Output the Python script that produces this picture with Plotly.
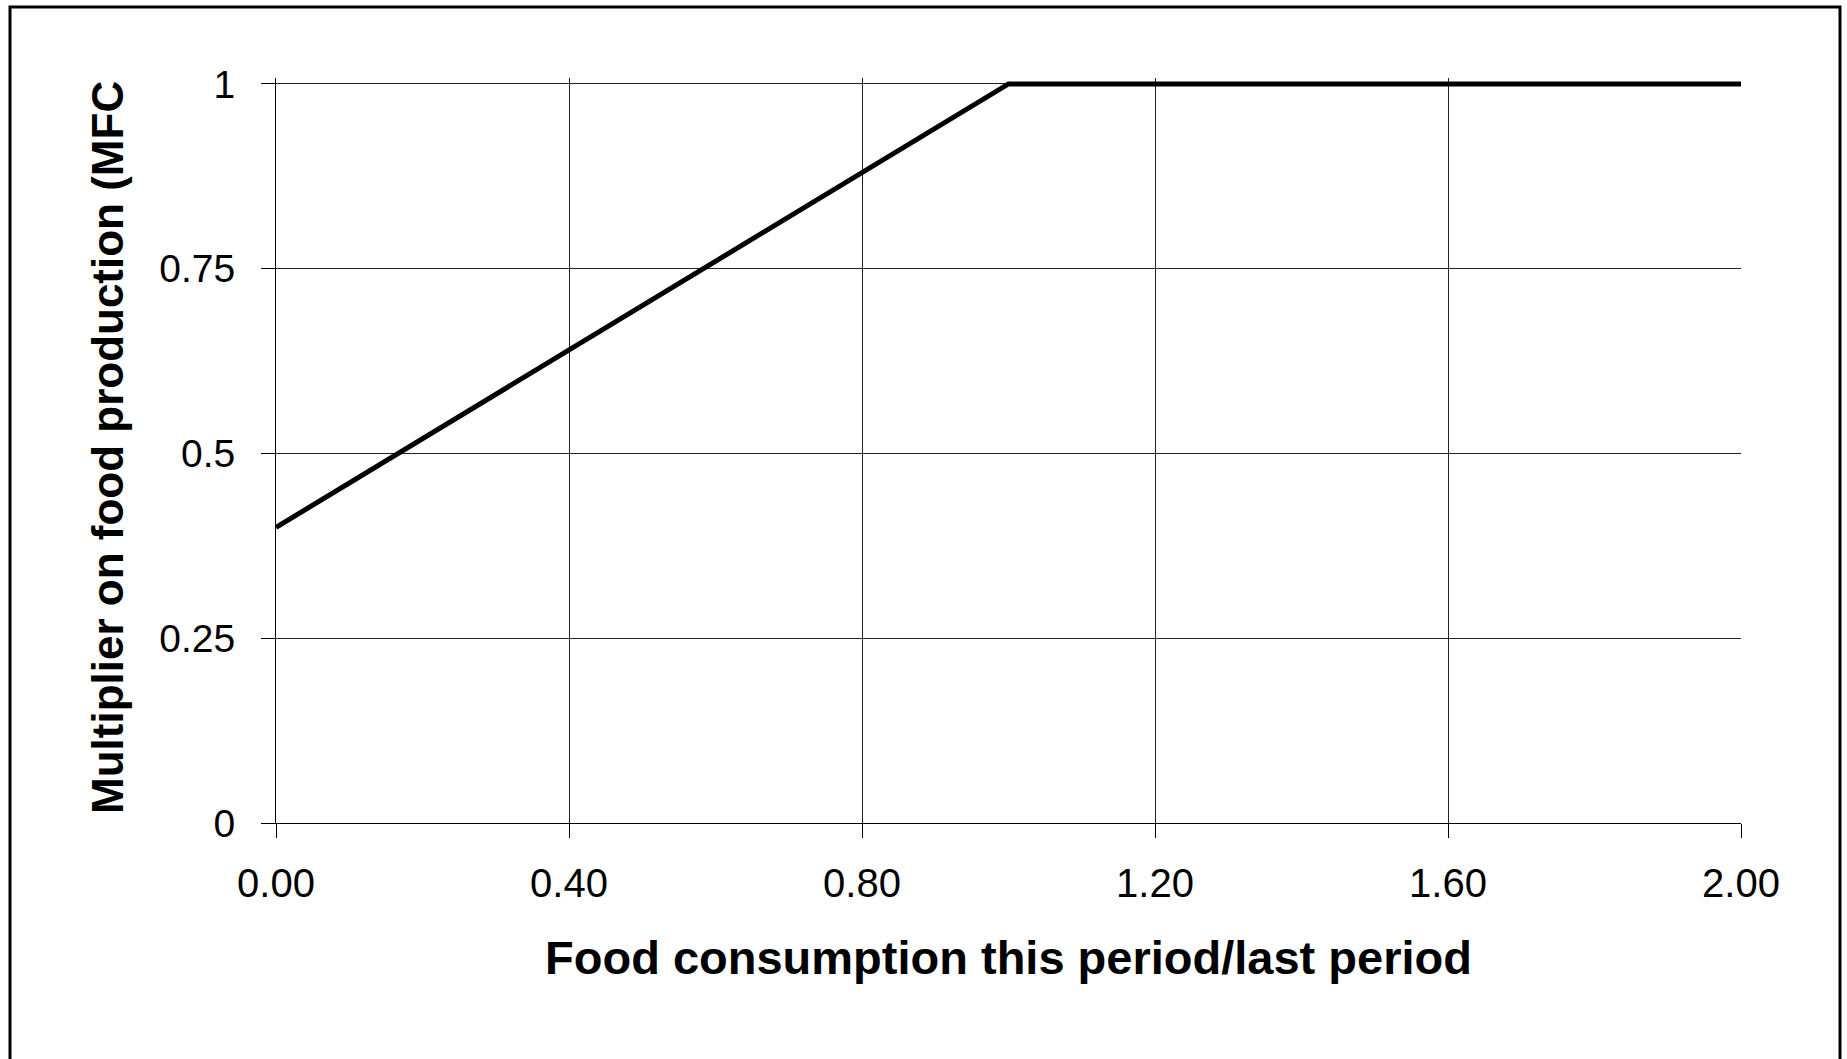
import plotly.graph_objects as go

# Data
x_vals = [0.0, 0.2, 0.4, 0.6, 0.8, 1.0, 1.2, 1.4, 1.6, 1.8, 2.0]
y_vals = [0.4, 0.52, 0.64, 0.76, 0.88, 1.0, 1.0, 1.0, 1.0, 1.0, 1.0]
x_ticks = [0.0, 0.4, 0.8, 1.2, 1.6, 2.0]
x_ticklabels = ["0.00", "0.40", "0.80", "1.20", "1.60", "2.00"]
y_ticks = [0, 0.25, 0.5, 0.75, 1]
y_ticklabels = ["0", "0.25", "0.5", "0.75", "1"]
x_title = "Food consumption this period/last period"
y_title = "Multiplier on food production (MFC"

W, H = 1847, 1059
Y_TOP = 1.008  # small headroom so the thick line at y=1 is not clipped
L, R, B = 276, 106, 236
ph1 = H - B - 84          # pixel height for 0..1
T = int(round(84 - (Y_TOP - 1) * ph1))
pw = W - L - R
ph = H - T - B

FONT = "Liberation Sans, Arial, sans-serif"

fig = go.Figure()
fig.add_trace(go.Scatter(x=x_vals, y=y_vals, mode="lines",
                         line=dict(color="black", width=5),
                         showlegend=False, hoverinfo="skip"))

def px2paper_x(px):
    return (px - L) / pw

def px2paper_y(py):
    return (H - B - py) / ph

fig.update_layout(
    width=W, height=H,
    margin=dict(l=L, r=R, t=T, b=B),
    paper_bgcolor="white", plot_bgcolor="white",
    font=dict(family=FONT, color="black"),
    xaxis=dict(range=[0, 2], tickvals=x_ticks, ticktext=x_ticklabels,
               showgrid=True, gridcolor="#222", gridwidth=1,
               showline=True, linecolor="black", linewidth=1,
               ticks="outside", ticklen=14, tickcolor="black", tickwidth=1,
               tickfont=dict(size=40, family=FONT), zeroline=False,
               ticklabelstandoff=11, fixedrange=True),
    yaxis=dict(range=[0, Y_TOP], tickvals=y_ticks, ticktext=y_ticklabels,
               showgrid=True, gridcolor="#222", gridwidth=1,
               showline=True, linecolor="black", linewidth=1,
               ticks="outside", ticklen=14, tickcolor="black", tickwidth=1,
               tickfont=dict(size=39, family=FONT), zeroline=False,
               ticklabelstandoff=18, fixedrange=True),
    annotations=[
        dict(text="<b>" + x_title + "</b>", xref="paper", yref="paper",
             x=0.5, y=px2paper_y(957), xanchor="center", yanchor="middle",
             showarrow=False, font=dict(size=47, family=FONT)),
        dict(text="<b>" + y_title + "</b>", xref="paper", yref="paper",
             x=px2paper_x(108), y=px2paper_y(448), xanchor="center", yanchor="middle",
             textangle=-90, showarrow=False, font=dict(size=44, family=FONT)),
    ],
    shapes=[
        dict(type="rect", xref="paper", yref="paper",
             x0=px2paper_x(10), x1=px2paper_x(1840),
             y0=px2paper_y(1075), y1=px2paper_y(7),
             line=dict(color="black", width=3), fillcolor="rgba(0,0,0,0)", layer="above"),
    ],
)

fig.write_html("out.html", config={"displayModeBar": False},
               post_script="document.body.style.margin='0';document.body.style.overflow='hidden';")
